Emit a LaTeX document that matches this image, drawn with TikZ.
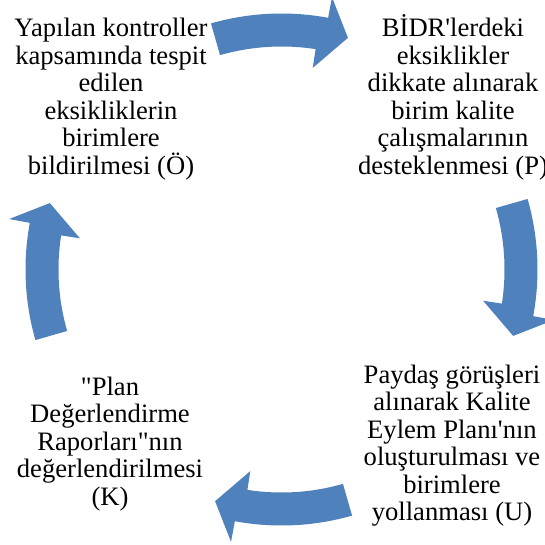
\documentclass[tikz,border=0pt]{standalone}
\usepackage{fontspec}
\newfontfamily\tnr{Liberation Serif}
\definecolor{arrowblue}{HTML}{4F81BD}
\newcommand\cyclearrow[1]{%
  \path[arr] ({90-#1+16}:256) arc[start angle={90-#1+16}, end angle={90-#1-10.5}, radius=256]
    -- ({90-#1-10.5}:277) -- ({90-#1-16}:241) -- ({90-#1-8.8}:204) -- ({90-#1-8.8}:223)
    arc[start angle={90-#1-8.8}, end angle={90-#1+16}, radius=223] -- cycle;}
\begin{document}
\begin{tikzpicture}[x=1pt,y=1pt,
  txt/.style={font=\tnr\fontsize{26.6}{27.5}\selectfont, align=flush center, text width=240pt, inner sep=0pt, anchor=base},
  arr/.style={fill=arrowblue, draw=none}]
\useasboundingbox (0,0) rectangle (545,-544);
\clip (0,0) rectangle (545,-544);
\node[txt] (o) at (111,-36.7) {Yapılan kontroller\\kapsamında tespit\\edilen\\eksikliklerin\\birimlere\\bildirilmesi (Ö)};
\node[txt] (p) at (453,-36.7) {BİDR'lerdeki\\eksiklikler\\dikkate alınarak\\birim kalite\\çalışmalarının\\desteklenmesi (P)};
\node[txt] (u) at (452,-383.3) {Paydaş görüşleri\\alınarak Kalite\\Eylem Planı'nın\\oluşturulması ve\\birimlere\\yollanması (U)};
\node[txt] (k) at (110,-395) {"Plan\\Değerlendirme\\Raporları"nın\\değerlendirilmesi\\(K)};
\begin{scope}[shift={(281.5,-269.5)}]
  \cyclearrow{0}
  \cyclearrow{90}
  \cyclearrow{180}
  \cyclearrow{270}
\end{scope}
\end{tikzpicture}
\end{document}
